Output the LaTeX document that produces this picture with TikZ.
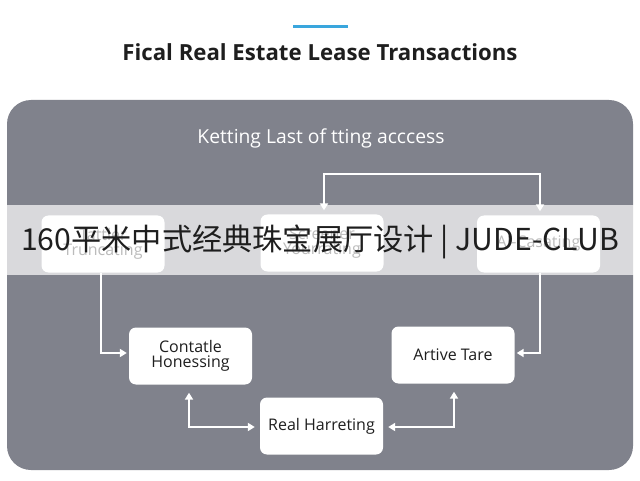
\documentclass[tikz,border=0pt]{standalone}
\usepackage{fontspec}
\setmainfont{Open Sans}
\newfontfamily\cjk{Noto Sans CJK SC}
\usetikzlibrary{arrows.meta}
\definecolor{panelgray}{RGB}{128,130,140}
\definecolor{titleblue}{RGB}{58,166,221}
\definecolor{inktext}{RGB}{30,30,30}
\tikzset{
  box/.style={fill=white, rounded corners=7pt, minimum width=123pt, minimum height=57pt, align=center, text=inktext, font=\fontsize{16}{15}\selectfont, inner sep=0pt},
  link/.style={draw=white, line width=1.8pt, -{Triangle[length=7pt,width=8pt]}},
  dlink/.style={draw=white, line width=1.8pt, {Triangle[length=7pt,width=8pt]}-{Triangle[length=7pt,width=8pt]}}
}
\begin{document}
\begin{tikzpicture}[x=1pt,y=1pt]
\useasboundingbox (0,0) rectangle (640,480);
\fill[white] (0,0) rectangle (640,480);
% accent line and title
\draw[titleblue, line width=3pt] (293,453) -- (348,453);
\node[font=\fontsize{22.2}{24}\selectfont\bfseries, text=inktext] (title) at (320,428) {Fical Real Estate Lease Transactions};
% panel
\fill[panelgray, rounded corners=24pt] (7,10) rectangle (633,380);
\node[font=\fontsize{19.3}{21}\selectfont, text=white] (sub) at (321,342) {Ketting Last of tting acccess};
% boxes
\node[box] (b1) at (103,236) {Tattler\\Truncating};
\node[box] (b2) at (322,237) {Screener\\Yourrating};
\node[box] (b3) at (538.5,236) {AI-Casating};
\node[box] (c) at (190.5,124) {Contatle\\Honessing};
\node[box] (a) at (453,125) {Artive Tare};
\node[box] (r) at (321.5,54) {Real Harreting};
% connectors
\coordinate (top2) at (324,306);
\coordinate (top3) at (540,306);
\draw[dlink, shorten <=4pt, shorten >=4pt] ([xshift=2pt]b2.north) -- (top2) -- (top3) -- ([xshift=1.5pt]b3.north);
\draw[link, shorten >=2pt] ([xshift=-2pt]b1.south) |- ([yshift=3pt]c.west);
\draw[link, shorten >=2pt] ([xshift=1.5pt]b3.south) |- ([yshift=2pt]a.east);
\draw[dlink, shorten <=8pt, shorten >=5pt] ([xshift=-1.5pt]c.south) |- ([yshift=-1pt]r.west);
\draw[dlink, shorten <=5pt, shorten >=8pt] ([yshift=-1pt]r.east) -| ([xshift=1pt]a.south);
% watermark band
\fill[white, opacity=0.7] (0,205) rectangle (640,275);
\node[font=\cjk\fontsize{30.2}{34}\selectfont, text=inktext] (wm) at (320,238) {160平米中式经典珠宝展厅设计 | JUDE-CLUB};
\end{tikzpicture}
\end{document}
